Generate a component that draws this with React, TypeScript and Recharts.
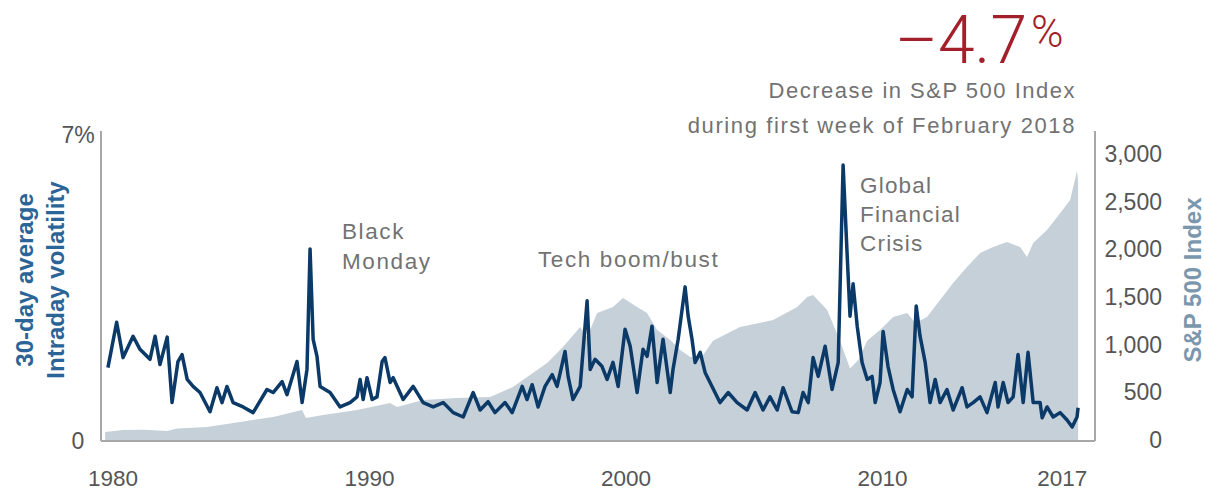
import React from "react";
import { ComposedChart, Line, Area, XAxis, YAxis } from "recharts";

const volYears = [1979.8,1980.14,1980.39,1980.78,1981.05,1981.44,1981.64,1981.83,1982.11,1982.3,1982.53,1982.69,1982.89,1983.12,1983.39,1983.78,1984.05,1984.25,1984.44,1984.68,1985.07,1985.46,1986.0,1986.24,1986.59,1986.78,1986.98,1987.17,1987.37,1987.56,1987.68,1987.8,1987.95,1988.07,1988.46,1988.85,1989.24,1989.51,1989.63,1989.75,1989.9,1990.1,1990.29,1990.49,1990.6,1990.8,1990.92,1991.31,1991.7,1992.09,1992.48,1992.87,1993.26,1993.65,1994.04,1994.31,1994.62,1994.89,1995.28,1995.56,1995.95,1996.14,1996.34,1996.57,1996.84,1997.12,1997.31,1997.62,1997.74,1997.93,1998.21,1998.48,1998.6,1998.79,1999.06,1999.26,1999.49,1999.69,1999.96,2000.16,2000.43,2000.66,2000.82,2001.01,2001.21,2001.44,2001.72,2001.83,2002.03,2002.3,2002.42,2002.57,2002.69,2002.89,2003.08,2003.35,2003.66,2003.98,2004.33,2004.72,2005.03,2005.34,2005.61,2005.89,2006.12,2006.47,2006.71,2006.9,2007.1,2007.29,2007.49,2007.76,2008.03,2008.27,2008.46,2008.62,2008.73,2008.85,2009.01,2009.2,2009.4,2009.59,2009.71,2009.9,2010.02,2010.21,2010.41,2010.68,2010.96,2011.15,2011.31,2011.46,2011.66,2011.85,2012.05,2012.24,2012.51,2012.75,2013.1,2013.29,2013.53,2013.8,2014.07,2014.39,2014.5,2014.7,2014.89,2015.09,2015.28,2015.48,2015.67,2015.87,2016.14,2016.22,2016.41,2016.65,2016.92,2017.19,2017.39,2017.58,2017.62];
const volValues = [1.68,2.72,1.91,2.4,2.1,1.87,2.4,1.75,2.38,0.88,1.82,1.98,1.41,1.25,1.11,0.67,1.22,0.88,1.25,0.88,0.78,0.65,1.18,1.11,1.36,1.06,1.45,1.82,0.88,1.64,4.4,2.33,1.94,1.25,1.11,0.78,0.88,1.01,1.41,0.95,1.45,0.95,1.01,1.82,1.91,1.34,1.45,0.95,1.25,0.88,0.78,0.88,0.65,0.55,1.11,0.71,0.9,0.65,0.88,0.65,1.25,0.95,1.29,0.78,1.25,1.52,1.25,2.05,1.48,0.95,1.25,3.21,1.64,1.87,1.71,1.41,1.8,1.25,2.56,2.17,1.11,2.1,1.94,2.63,1.34,2.33,1.11,1.64,2.33,3.53,2.86,2.33,1.8,2.03,1.57,1.25,0.88,1.11,0.88,0.71,1.11,0.71,1.01,0.71,1.22,0.67,0.65,1.11,0.88,1.91,1.48,2.17,1.18,1.8,6.32,4.24,2.86,3.6,2.63,1.8,1.41,1.48,0.88,1.34,2.51,1.71,1.18,0.67,1.18,1.01,3.09,2.4,1.8,0.88,1.41,0.88,1.18,0.71,1.22,0.78,0.88,1.01,0.65,1.34,0.78,1.34,0.88,1.01,1.98,0.88,2.03,0.88,0.88,0.53,0.78,0.55,0.65,0.48,0.32,0.55,0.76];

const spxYears = [1979.69,1980.39,1981.2,1982.11,1982.5,1983.66,1984.95,1986.24,1987.37,1987.52,1988.19,1989.51,1990.8,1991.07,1992.09,1993.41,1994.7,1995.59,1996.92,1997.54,1998.21,1998.48,1998.87,1999.49,1999.88,2000.43,2000.82,2001.21,2001.72,2002.11,2002.5,2003.0,2003.39,2004.44,2005.73,2006.67,2007.06,2007.29,2007.84,2008.34,2008.73,2009.05,2009.4,2009.9,2010.41,2010.96,2011.27,2011.73,2012.24,2012.75,2013.29,2013.8,2014.31,2014.85,2015.36,2015.63,2015.87,2016.41,2016.92,2017.31,2017.58,2017.62];
const spxValues = [94,115,118,105,130,147,200,252,325,241,272,325,398,356,430,450,461,566,817,985,1195,1090,1341,1404,1499,1404,1341,1163,1058,954,880,900,1050,1195,1268,1404,1509,1530,1373,1050,760,850,1050,1163,1300,1341,1237,1300,1478,1656,1823,1970,2033,2085,2033,1928,2075,2211,2389,2526,2830,2720];

const xTicks = [1980, 1990, 2000, 2010, 2017];
const leftTicks = [0, 7];
const rightTicks = [0, 500, 1000, 1500, 2000, 2500, 3000];

const volData = volYears.map((year, i) => ({ year, vol: volValues[i] }));
const spxData = spxYears.map((year, i) => ({ year, spx: spxValues[i] }));

const SANS = "'Liberation Sans', Arial, sans-serif";
const TICK = "#555555";
const AXIS = "#a8a8a8";
const NOTE = "#727272";

const XTick = (p: any) => (
  <text x={p.x} y={486} textAnchor="middle" fontFamily={SANS} fontSize={22.5} fill={TICK}>
    {String(p.payload.value)}
  </text>
);
const LTick = (p: any) => (
  <text x={78} y={p.y + 8} textAnchor="middle" fontFamily={SANS} fontSize={23} fill={TICK}>
    {p.payload.value === 0 ? "0" : `${p.payload.value}%`}
  </text>
);
const RTick = (p: any) => (
  <text x={1162} y={p.y + 7} textAnchor="end" fontFamily={SANS} fontSize={23} fill={TICK}>
    {Number(p.payload.value).toLocaleString("en-US")}
  </text>
);

export default function App() {
  return (
    <div style={{ position: "absolute", left: 0, top: 0, width: 1205, height: 491, background: "#fff" }}>
      <ComposedChart width={1205} height={491} margin={{ top: 131, right: 10, bottom: 5, left: 41 }}>
        <XAxis
          type="number"
          dataKey="year"
          domain={[1979.53, 2018.28]}
          ticks={xTicks}
          allowDataOverflow
          height={45}
          tickLine={false}
          axisLine={{ stroke: AXIS, strokeWidth: 2 }}
          tick={XTick}
        />
        <YAxis
          yAxisId="left"
          orientation="left"
          width={60}
          domain={[0, 7.1]}
          ticks={leftTicks}
          allowDataOverflow
          tickLine={false}
          axisLine={{ stroke: AXIS, strokeWidth: 2 }}
          tick={LTick}
        />
        <YAxis
          yAxisId="right"
          orientation="right"
          width={100}
          domain={[0, 3250]}
          ticks={rightTicks}
          allowDataOverflow
          tickLine={false}
          axisLine={{ stroke: AXIS, strokeWidth: 2 }}
          tick={RTick}
        />
        <Area
          yAxisId="right"
          data={spxData}
          dataKey="spx"
          type="linear"
          fill="#c6d0d8"
          fillOpacity={1}
          stroke="none"
          isAnimationActive={false}
        />
        <Line
          yAxisId="left"
          data={volData}
          dataKey="vol"
          type="linear"
          stroke="#0b3a68"
          strokeWidth={3.5}
          dot={false}
          strokeLinejoin="round"
          isAnimationActive={false}
        />
      </ComposedChart>
      <svg width={1205} height={491} style={{ position: "absolute", left: 0, top: 0, pointerEvents: "none" }}>
        <text x={1027} y={63} textAnchor="end" fontFamily="Roboto, Lato, sans-serif" fontWeight={300} fontSize={66} fill="#a31f2a">
          –4.7
        </text>
        <text x={1031} y={47} fontFamily="Roboto, Lato, sans-serif" fontWeight={300} fontSize={44} fill="#a31f2a">
          %
        </text>
        <text x={1076} y={98} textAnchor="end" fontFamily={SANS} fontSize={22} letterSpacing={1.5} fill={NOTE}>
          Decrease in S&amp;P 500 Index
        </text>
        <text x={1076} y={133} textAnchor="end" fontFamily={SANS} fontSize={22} letterSpacing={1.6} fill={NOTE}>
          during first week of February 2018
        </text>
        <text fontFamily={SANS} fontSize={22.5} letterSpacing={1.6} fill={NOTE}>
          <tspan x={342} y={239}>Black</tspan>
          <tspan x={342} y={269}>Monday</tspan>
        </text>
        <text x={538} y={267} fontFamily={SANS} fontSize={22.5} letterSpacing={1.6} fill={NOTE}>
          Tech boom/bust
        </text>
        <text fontFamily={SANS} fontSize={22.5} letterSpacing={1.2} fill={NOTE}>
          <tspan x={860} y={193}>Global</tspan>
          <tspan x={860} y={222}>Financial</tspan>
          <tspan x={860} y={251}>Crisis</tspan>
        </text>
        <text transform="translate(33,280) rotate(-90)" textAnchor="middle" fontFamily={SANS} fontWeight="bold" fontSize={24} fill="#2b6496">
          30-day average
        </text>
        <text transform="translate(64,280) rotate(-90)" textAnchor="middle" fontFamily={SANS} fontWeight="bold" fontSize={24} fill="#2b6496">
          Intraday volatility
        </text>
        <text transform="translate(1201,280) rotate(-90)" textAnchor="middle" fontFamily={SANS} fontWeight="bold" fontSize={24} fill="#7b97ad">
          S&amp;P 500 Index
        </text>
      </svg>
    </div>
  );
}
